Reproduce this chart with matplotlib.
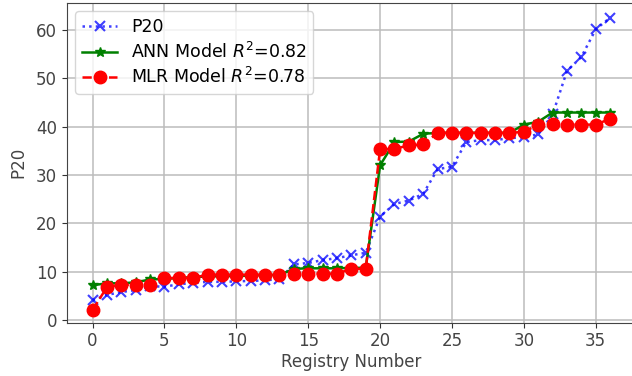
import matplotlib
matplotlib.use("Agg")
import matplotlib.pyplot as plt
import numpy as np

registry = list(range(37))
p20 = [4.1, 5.2, 5.8, 6.2, 7.0, 6.9, 7.4, 7.7, 7.9, 7.9, 8.0, 8.1, 8.2, 8.5,
       11.5, 11.8, 12.4, 12.8, 13.4, 13.9, 21.4, 24.0, 24.7, 26.1, 31.2, 31.7,
       36.8, 37.2, 37.2, 37.6, 37.8, 38.4, 42.5, 51.5, 54.4, 60.1, 62.5]
ann = [7.2, 7.6, 7.6, 7.8, 8.4, 8.5, 8.7, 8.9, 9.0, 9.1, 9.1, 9.2, 9.3, 9.3,
       10.6, 10.7, 10.7, 10.7, 10.8, 10.8, 32.0, 36.8, 36.9, 38.5, 38.7, 38.7,
       38.7, 38.7, 38.7, 38.7, 40.4, 41.0, 42.9, 42.9, 42.9, 42.9, 42.9]
mlr = [2.1, 6.8, 7.3, 7.3, 7.3, 8.7, 8.7, 8.7, 9.4, 9.4, 9.4, 9.4, 9.4, 9.4,
       9.6, 9.6, 9.6, 9.6, 10.6, 10.6, 35.3, 35.4, 36.1, 36.3, 38.7, 38.7,
       38.7, 38.7, 38.7, 38.7, 38.9, 40.4, 40.5, 40.4, 40.4, 40.4, 41.6]

W, H = 632, 376
left, right, top, bottom = 66.7, 636.0, 2.7, 322.5
fig = plt.figure(figsize=(W / 100, H / 100), dpi=100)
ax = fig.add_axes([left / W, 1 - bottom / H, (right - left) / W, (bottom - top) / H])
ax.plot(registry, p20, linestyle=':', color='blue', marker='x', markersize=7,
        markeredgewidth=1.5, linewidth=1.8, alpha=0.75, label='P20')
ax.plot(registry, ann, linestyle='-', color='green', marker='*', markersize=7,
        linewidth=1.8, label='ANN Model $R^2$=0.82')
ax.plot(registry, mlr, linestyle='--', color='red', marker='o', markersize=9,
        linewidth=1.8, label='MLR Model $R^2$=0.78')
ax.set_xlim(-1.8, 37.8)
ax.set_ylim(-0.5, 65.6)
ax.grid(True, color='#bcbcbc', linewidth=1.1)
ax.set_xticks([0, 5, 10, 15, 20, 25, 30, 35])
ax.set_yticks([0, 10, 20, 30, 40, 50, 60])
ax.tick_params(labelsize=12, colors='#333333', labelcolor='#444444')
for s in ax.spines.values():
    s.set_color('#444444')
ax.set_xlabel('Registry Number', fontsize=12, color='#444444', labelpad=2)
ax.set_ylabel('P20', fontsize=12, color='#444444', labelpad=6)
ax.legend(loc='upper left', fontsize=12.5, borderaxespad=0.5,
          handlelength=2.0, labelspacing=0.3)
fig.savefig('out.png', dpi=100)
